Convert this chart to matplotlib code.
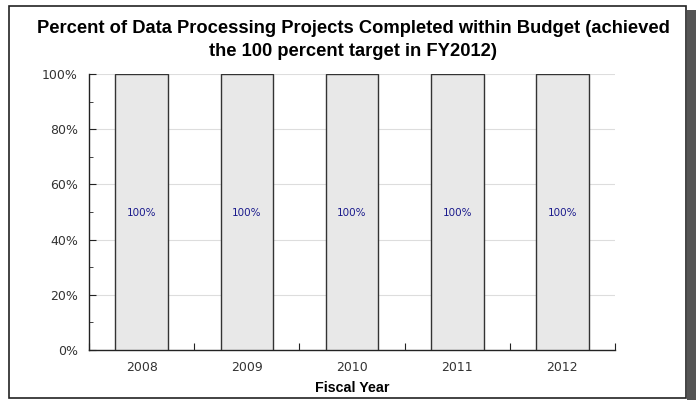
import matplotlib
matplotlib.use("Agg")
import matplotlib.pyplot as plt
from matplotlib.patches import Rectangle
from matplotlib.ticker import MultipleLocator, FuncFormatter

years = ["2008", "2009", "2010", "2011", "2012"]
values = [100, 100, 100, 100, 100]
labels = ["100%", "100%", "100%", "100%", "100%"]
title = "Percent of Data Processing Projects Completed within Budget (achieved\nthe 100 percent target in FY2012)"
xlabel = "Fiscal Year"

plt.rcParams['font.family'] = ['Liberation Sans', 'DejaVu Sans']
W, H = 696, 400
fig = plt.figure(figsize=(W/100, H/100), dpi=100)
fig.patch.set_facecolor("white")

# shadow and frame
fig.add_artist(Rectangle((687/W, 0), 9/W, (H-10)/H, transform=fig.transFigure,
                         facecolor="#555555", edgecolor="none", zorder=-2))
fig.add_artist(Rectangle((9/W, 2/H), 677/W, 392/H, transform=fig.transFigure,
                         facecolor="white", edgecolor="#222222", linewidth=1.2, zorder=-1))

ax = fig.add_axes([89/W, 50/H, 526/W, 276/H])
ax.set_zorder(2)
ax.set_facecolor("none")
x = list(range(len(years)))
ax.bar(x, values, width=0.5, color="#e8e8e8", edgecolor="#333333", linewidth=1.0, zorder=3)
for xi, v, lab in zip(x, values, labels):
    ax.text(xi, v/2 - 0.5, lab, ha="center", va="center", color="#1a1a8c", fontsize=7.5,
            family="DejaVu Sans", zorder=4)

ax.set_xlim(-0.5, len(years)-0.5)
ax.set_ylim(0, 100)
ax.yaxis.set_major_locator(MultipleLocator(20))
ax.yaxis.set_minor_locator(MultipleLocator(10))
ax.yaxis.set_major_formatter(FuncFormatter(lambda v, p: f"{int(v)}%"))
ax.grid(axis="y", which="major", color="#dddddd", linewidth=0.8, zorder=0)
ax.set_xticks([i - 0.5 for i in range(len(years)+1)], minor=False)
ax.set_xticklabels([])
ax.set_xticks(x, minor=True)
ax.set_xticklabels(years, minor=True)
ax.tick_params(axis="x", which="major", direction="in", length=5, color="#222222")
ax.tick_params(axis="x", which="minor", length=0, labelsize=9, pad=8, labelcolor="#333333")
ax.tick_params(axis="y", which="major", direction="in", length=5, color="#222222",
               labelsize=9, labelcolor="#333333", pad=8)
ax.tick_params(axis="y", which="minor", direction="in", length=3, color="#222222")
for lab in ax.get_xticklabels(minor=True) + ax.get_yticklabels():
    lab.set_family("DejaVu Sans")
for s in ["top", "right"]:
    ax.spines[s].set_visible(False)
for s in ["left", "bottom"]:
    ax.spines[s].set_color("#222222")
    ax.spines[s].set_linewidth(1.0)

ax.set_xlabel(xlabel, fontsize=10.3, fontweight="bold", labelpad=5)
fig.text(353/W, 1-40/H, title, ha="center", va="center", fontsize=13.2,
         fontweight="bold", linespacing=1.4, zorder=3)

fig.savefig("out.png", dpi=100)
